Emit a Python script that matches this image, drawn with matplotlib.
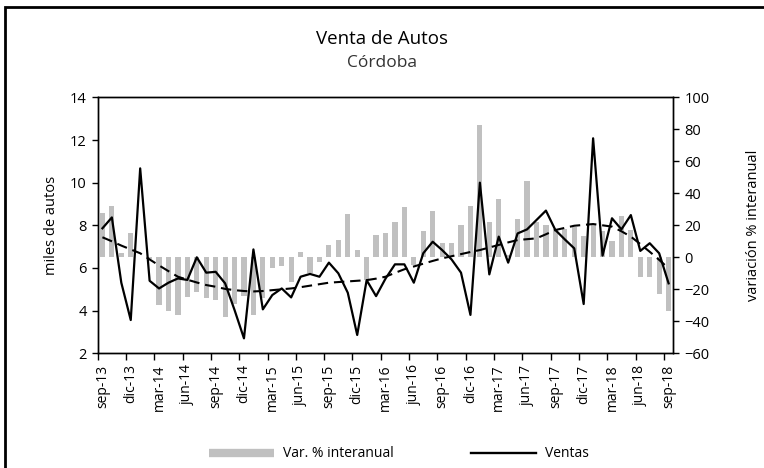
import numpy as np
import matplotlib.pyplot as plt
from matplotlib.lines import Line2D
from matplotlib.patches import Rectangle

plt.rcParams['font.family'] = ['Open Sans', 'DejaVu Sans']

# Etiquetas trimestrales del eje x (sep-13 a sep-18, 61 meses)
meses = ['sep-13', 'dic-13', 'mar-14', 'jun-14', 'sep-14', 'dic-14', 'mar-15',
         'jun-15', 'sep-15', 'dic-15', 'mar-16', 'jun-16', 'sep-16', 'dic-16',
         'mar-17', 'jun-17', 'sep-17', 'dic-17', 'mar-18', 'jun-18', 'sep-18']

# Ventas mensuales (miles de autos)
ventas = [7.86, 8.37, 5.31, 3.56, 10.67, 5.40, 5.04, 5.31, 5.51, 5.44,
          6.50, 5.78, 5.82, 5.28, 4.03, 2.70, 6.87, 4.06, 4.73, 5.04,
          4.62, 5.59, 5.72, 5.59, 6.25, 5.75, 4.84, 2.86, 5.43, 4.68,
          5.50, 6.17, 6.17, 5.31, 6.69, 7.23, 6.84, 6.40, 5.78, 3.80,
          10.00, 5.70, 7.47, 6.25, 7.62, 7.81, 8.25, 8.69, 7.78, 7.34,
          6.92, 4.31, 12.08, 6.58, 8.33, 7.81, 8.48, 6.80, 7.16, 6.69,
          5.28]

# Variación % interanual
var_ia = [27.7, 32.3, 3.0, 15.2, 0.5, -1.0, -29.6, -33.7, -35.8, -24.6,
          -21.4, -25.6, -26.4, -37.4, -29.4, -24.0, -35.8, -25.7, -6.8, -5.4,
          -15.6, 3.3, -9.8, -2.9, 7.5, 10.6, 27.3, 4.8, -13.9, 13.8,
          15.2, 21.9, 31.5, -5.0, 16.3, 29.2, 9.0, 9.0, 20.4, 32.3,
          82.9, 21.9, 36.5, 1.3, 24.2, 47.5, 22.0, 20.4, 17.8, 17.8,
          18.8, 13.1, 21.0, 16.3, 10.5, 25.8, 17.0, -12.5, -12.5, -22.9,
          -33.3]

# Tendencia de ventas
tendencia = [7.44, 7.25, 7.05, 6.87, 6.69, 6.40, 6.12, 5.85, 5.59, 5.45,
             5.32, 5.20, 5.12, 5.02, 4.96, 4.92, 4.90, 4.92, 4.96, 5.00,
             5.04, 5.10, 5.17, 5.24, 5.31, 5.34, 5.37, 5.40, 5.43, 5.50,
             5.59, 5.77, 5.94, 6.07, 6.20, 6.33, 6.45, 6.55, 6.65, 6.75,
             6.84, 6.96, 7.08, 7.20, 7.31, 7.35, 7.39, 7.58, 7.78, 7.88,
             7.98, 8.02, 8.06, 8.00, 7.94, 7.72, 7.47, 7.12, 6.76, 6.38,
             5.98]

x = np.arange(len(ventas))

fig = plt.figure(figsize=(7.64, 4.68), dpi=100)
ax = fig.add_axes([0.1279, 0.2451, 0.7534, 0.5469])
ax2 = ax.twinx()

# barras en el eje derecho, por detrás de la línea
ax2.bar(x, var_ia, width=0.55, color='#c0c0c0', zorder=1)
ax2.set_ylim(-60, 100)
ax2.set_yticks(np.arange(-60, 101, 20))

ax.set_zorder(ax2.get_zorder() + 1)
ax.patch.set_visible(False)
ax.plot(x, ventas, color='black', lw=1.6, zorder=3)
ax.plot(x, tendencia, color='black', lw=1.5, ls=(0, (5, 2.8)), zorder=3)
ax.set_ylim(2, 14)
ax.set_yticks(np.arange(2, 15, 2))
ax.set_xlim(-0.5, len(ventas) - 0.5)

# marcas entre categorías cada 3 meses, etiquetas centradas
ax.set_xticks(np.arange(-0.5, len(ventas) - 1, 3))
ax.set_xticklabels([])
ax.set_xticks(np.arange(0, len(ventas), 3), minor=True)
ax.set_xticklabels(meses, minor=True, rotation=90, fontsize=10)
ax.tick_params(axis='x', which='major', length=5, width=1, direction='out')
ax.tick_params(axis='x', which='minor', length=0, pad=8)

ax.tick_params(axis='y', length=4, width=1, labelsize=10.5, pad=4)
ax2.tick_params(axis='y', length=4, width=1, labelsize=10.5, pad=4)

for a in (ax, ax2):
    for s in a.spines.values():
        s.set_linewidth(1)
        s.set_color('black')

ax.set_ylabel('miles de autos', fontsize=10.5, labelpad=8)
ax2.set_ylabel('variación % interanual', fontsize=10.5, labelpad=26)

fig.text(0.5, 0.917, 'Venta de Autos', ha='center', va='center', fontsize=13.5)
fig.text(0.5, 0.865, 'Córdoba', ha='center', va='center', fontsize=12.5,
         color='#333333')

handles = [Line2D([], [], color='#c0c0c0', lw=6, solid_capstyle='butt'),
           Line2D([], [], color='black', lw=1.7)]
fig.legend(handles, ['Var. % interanual', 'Ventas'], loc='center',
           bbox_to_anchor=(0.522, 0.03), ncol=2, frameon=False, fontsize=10,
           handlelength=4.7, handletextpad=0.6, columnspacing=5.6)

# marco exterior
fig.add_artist(Rectangle((5 / 764, -0.1), 1.2, 1 - 7 / 468 + 0.1,
                         transform=fig.transFigure, fill=False,
                         edgecolor='black', lw=2))

fig.savefig('out.png', dpi=100)
